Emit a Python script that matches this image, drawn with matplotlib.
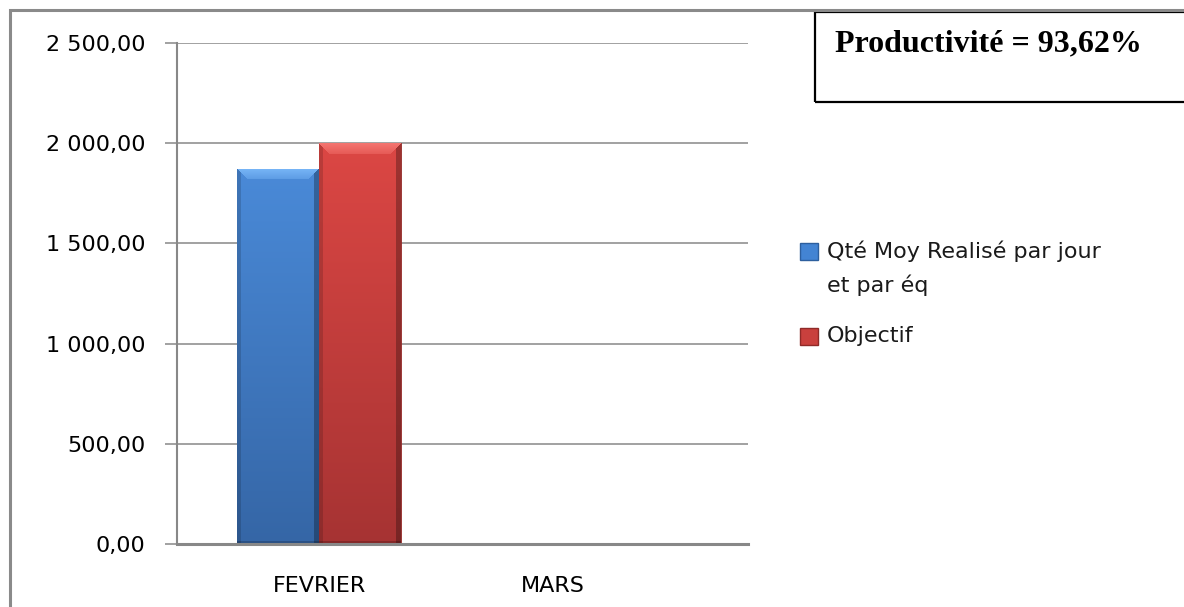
import numpy as np
import matplotlib
matplotlib.use("Agg")
import matplotlib.pyplot as plt
from matplotlib.patches import Rectangle
from matplotlib.colors import to_rgb
from matplotlib.ticker import FuncFormatter

mois = ["FEVRIER", "MARS"]
realise = [1872.4, np.nan]
objectif = [2000.0, np.nan]
series = ["Qté Moy Realisé par jour\net par éq", "Objectif"]
productivite = 93.62

W, H = 1184, 607
GRIS = "#888888"


def fx(px):
    return px / W


def fy(py):
    return 1 - py / H


def fmt_fr(v, pos=None):
    s = f"{v:,.2f}"
    return s.replace(",", " ").replace(".", ",")


def bevel_bar(ax, bar, top_col, bot_col, light_col):
    # fake Excel-style bevel: light top band, darker sides, vertical fade
    x0, y0 = bar.get_x(), bar.get_y()
    w, h = bar.get_width(), bar.get_height()
    p0 = ax.transData.transform((x0, y0))
    p1 = ax.transData.transform((x0 + w, y0 + h))
    nx = max(int(round(p1[0] - p0[0])), 2)
    ny = max(int(round(p1[1] - p0[1])), 2)
    yy, xx = np.mgrid[0:ny, 0:nx].astype(float)
    t = (yy / (ny - 1))[..., None]
    top, bot, light = (np.array(to_rgb(c)) for c in (top_col, bot_col, light_col))
    img = top * (1 - t) + bot * t
    d_left, d_right = xx, nx - 1 - xx
    d_top, d_bot = yy, ny - 1 - yy
    b = 11
    band = (d_top < b) & (d_top <= np.minimum(d_left, d_right))
    f = (1 - d_top / b)[..., None] * 0.6 + 0.4
    img = np.where(band[..., None], light * f + img * (1 - f), img)
    left = (d_left < 4) & (d_left < d_top)
    right = (d_right < 5) & (d_right < d_top)
    img = np.where(left[..., None], img * 0.85, img)
    img = np.where(right[..., None], img * 0.72, img)
    img = np.where((d_bot < 3)[..., None], img * 0.8, img)
    im = ax.imshow(np.clip(img, 0, 1), extent=(x0, x0 + w, y0, y0 + h),
                   origin="upper", aspect="auto", interpolation="bilinear",
                   zorder=bar.get_zorder() + 0.1)
    im.set_clip_path(bar)


fig = plt.figure(figsize=(W / 100, H / 100), dpi=100)
ax = fig.add_axes([fx(177), fy(544), (748 - 177) / W, (544 - 43) / H])

x = np.arange(len(mois))
bw = 0.35
b1 = ax.bar(x - bw / 2, realise, bw, color="#4384d3", edgecolor="#2d5f9e", lw=0.6, zorder=3)
b2 = ax.bar(x + bw / 2, objectif, bw, color="#d8423f", edgecolor="#8f2a28", lw=0.6, zorder=3)

ax.set_xlim(-0.607, 1.833)
ax.set_ylim(0, 2500)
ax.set_yticks(np.arange(0, 2501, 500))
ax.yaxis.set_major_formatter(FuncFormatter(fmt_fr))
ax.set_xticks(x)
ax.set_xticklabels(mois)
ax.grid(axis="y", color=GRIS, lw=1.1, zorder=0)
ax.set_axisbelow(True)

for s in ["top", "right"]:
    ax.spines[s].set_visible(False)
ax.spines["left"].set_color(GRIS)
ax.spines["left"].set_linewidth(1.5)
ax.spines["bottom"].set_color(GRIS)
ax.spines["bottom"].set_linewidth(2.2)
ax.spines["bottom"].set_zorder(4)

ax.tick_params(axis="y", length=8.6, width=1.1, color=GRIS, pad=14, labelsize=16)
ax.tick_params(axis="x", length=0, pad=23, labelsize=16)

for bars, cols in [(b1, ("#4a8ad8", "#3566a6", "#78b6f7")),
                   (b2, ("#dc4744", "#a63333", "#f47570"))]:
    for bar in bars:
        if np.isfinite(bar.get_height()):
            bevel_bar(ax, bar, *cols)

# legend drawn by hand so the marker sits on the first line of text
leg_items = [(series[0], "#4384d3", "#2d5f9e", 243), (series[1], "#c9403d", "#8f2a28", 328)]
for lab, fc, ec, ytop in leg_items:
    fig.add_artist(Rectangle((fx(800), fy(ytop + 17)), 18 / W, 17 / H,
                             transform=fig.transFigure, facecolor=fc, edgecolor=ec, lw=1))
    fig.text(fx(827), fy(ytop - 2), lab, fontsize=16, va="top", ha="left",
             linespacing=1.7, color="#1a1a1a")

# productivity box
fig.add_artist(Rectangle((fx(815), fy(102)), 400 / W, 90 / H, transform=fig.transFigure,
                         facecolor="none", edgecolor="black", lw=1.6))
fig.text(fx(835), fy(44), f"Productivité = {productivite:.2f}%".replace(".", ","),
         family="Liberation Serif", weight="bold", fontsize=23, va="center", ha="left")

# outer frame
fig.add_artist(Rectangle((fx(9.5), fy(700)), 1300 / W, 690 / H, transform=fig.transFigure,
                         facecolor="none", edgecolor="#8a8a8a", lw=2.2))

fig.savefig("out.png", dpi=100)
